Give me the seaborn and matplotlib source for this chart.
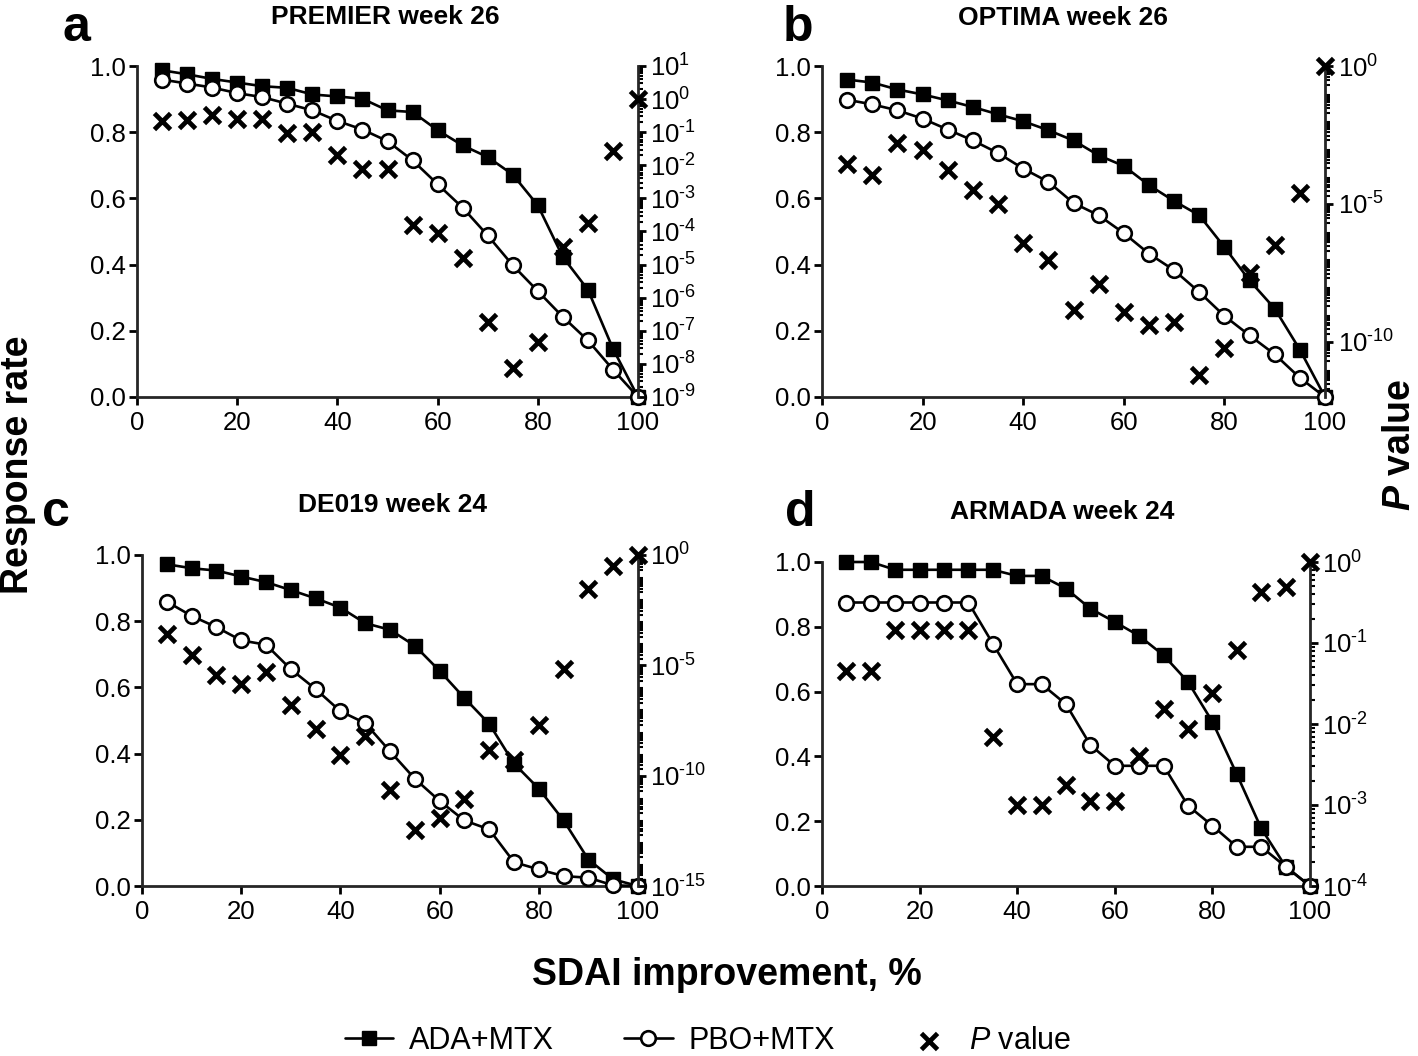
import numpy as np
import pandas as pd
import matplotlib
matplotlib.use("Agg")
import matplotlib.pyplot as plt
import seaborn as sns
from matplotlib.ticker import (FixedLocator, LogLocator, FuncFormatter,
                               NullFormatter, FormatStrFormatter, MultipleLocator)

# ---------------- data ----------------
improvement = [5, 10, 15, 20, 25, 30, 35, 40, 45, 50, 55, 60, 65, 70, 75, 80, 85, 90, 95, 100]

titles = ["PREMIER week 26", "OPTIMA week 26", "DE019 week 24", "ARMADA week 24"]
panel_letters = ["a", "b", "c", "d"]

premier_ada = [0.987, 0.975, 0.961, 0.950, 0.939, 0.934, 0.914, 0.908, 0.901, 0.866,
               0.861, 0.806, 0.760, 0.725, 0.672, 0.579, 0.423, 0.324, 0.146, 0.0]
premier_pbo = [0.959, 0.947, 0.935, 0.918, 0.906, 0.886, 0.866, 0.834, 0.808, 0.773,
               0.715, 0.643, 0.572, 0.488, 0.398, 0.320, 0.242, 0.171, 0.083, 0.0]
premier_logp = [-0.66, -0.64, -0.49, -0.59, -0.59, -1.02, -0.99, -1.70, -2.10, -2.10,
                -3.81, -4.05, -4.79, -6.73, -8.11, -7.34, -4.47, -3.74, -1.57, 0.0]

optima_ada = [0.959, 0.950, 0.929, 0.914, 0.896, 0.876, 0.854, 0.833, 0.806, 0.775,
              0.730, 0.698, 0.640, 0.592, 0.549, 0.453, 0.352, 0.267, 0.143, 0.0]
optima_pbo = [0.898, 0.884, 0.866, 0.841, 0.808, 0.775, 0.737, 0.690, 0.650, 0.586,
              0.549, 0.495, 0.433, 0.383, 0.317, 0.245, 0.186, 0.129, 0.058, 0.0]
optima_logp = [-3.54, -3.96, -2.79, -3.06, -3.76, -4.51, -4.99, -6.42, -7.02, -8.86,
               -7.89, -8.92, -9.40, -9.28, -11.21, -10.21, -7.50, -6.50, -4.60, 0.0]

de019_ada = [0.972, 0.960, 0.953, 0.935, 0.918, 0.894, 0.869, 0.841, 0.794, 0.774,
             0.726, 0.650, 0.568, 0.490, 0.370, 0.294, 0.198, 0.080, 0.020, 0.0]
de019_pbo = [0.859, 0.816, 0.782, 0.742, 0.729, 0.655, 0.595, 0.528, 0.492, 0.407,
             0.324, 0.257, 0.198, 0.171, 0.072, 0.050, 0.030, 0.025, 0.002, 0.0]
de019_logp = [-3.57, -4.52, -5.43, -5.85, -5.28, -6.78, -7.88, -9.05, -8.22, -10.66,
              -12.44, -11.91, -11.08, -8.82, -9.27, -7.69, -5.17, -1.55, -0.50, 0.0]

armada_ada = [1.0, 1.0, 0.976, 0.976, 0.976, 0.976, 0.976, 0.957, 0.957, 0.918,
              0.856, 0.815, 0.772, 0.712, 0.630, 0.507, 0.345, 0.178, 0.060, 0.0]
armada_pbo = [0.875, 0.875, 0.875, 0.875, 0.875, 0.875, 0.748, 0.623, 0.623, 0.561,
              0.435, 0.371, 0.371, 0.371, 0.248, 0.186, 0.121, 0.121, 0.060, 0.0]
armada_logp = [-1.34, -1.34, -0.84, -0.84, -0.84, -0.84, -2.16, -3.00, -3.00, -2.75,
               -2.95, -2.95, -2.40, -1.81, -2.06, -1.62, -1.09, -0.37, -0.31, 0.0]

ada_series = [premier_ada, optima_ada, de019_ada, armada_ada]
pbo_series = [premier_pbo, optima_pbo, de019_pbo, armada_pbo]
logp_series = [premier_logp, optima_logp, de019_logp, armada_logp]

# right-axis (log P) ranges in decades, and major tick step in decades
p_ranges = [(-9, 1), (-12, 0), (-15, 0), (-4, 0)]
p_major_step = [1, 5, 5, 1]

# ---------------- style ----------------
sns.set_style("ticks")
plt.rcParams["font.family"] = ["Liberation Sans", "DejaVu Sans"]
plt.rcParams.update({
    "mathtext.fontset": "custom",
    "mathtext.rm": "Liberation Sans",
    "mathtext.it": "Liberation Sans:italic",
    "mathtext.bf": "Liberation Sans:bold",
    "mathtext.bfit": "Liberation Sans:italic:bold",
    "axes.unicode_minus": False,
    "axes.linewidth": 2.0,
    "text.color": "black",
    "axes.labelcolor": "black",
    "xtick.color": "black",
    "ytick.color": "black",
})


def pow10_label(v, pos):
    e = int(round(np.log10(v)))
    if e < 0:
        return r"$10^{\text{-}%d}$" % abs(e)
    return r"$10^{%d}$" % e


W, H = 1418, 1056
fig = plt.figure(figsize=(W / 100, H / 100), dpi=100)

# axes boxes in pixels: left, right, top, bottom
boxes = [(137, 638, 66, 397), (822, 1325, 66, 397),
         (142, 638, 555, 886), (822, 1310, 562, 886)]
title_pos = [(385, 17), (1063, 18), (393, 505), (1062, 512)]
letter_pos = [(62, 41), (783, 41), (42, 526), (785, 526)]

TICK_FS = 18.5
line_handles = None
for i in range(4):
    l, r, t, b = boxes[i]
    ax = fig.add_axes([l / W, 1 - b / H, (r - l) / W, (b - t) / H])
    df = pd.DataFrame({"x": improvement, "ada": ada_series[i], "pbo": pbo_series[i],
                       "p": 10.0 ** np.array(logp_series[i])})

    sns.lineplot(data=df, x="x", y="ada", ax=ax, color="black", linewidth=1.9,
                 marker="s", markersize=9.5, markeredgecolor="black",
                 markerfacecolor="black", markeredgewidth=1.0,
                 clip_on=False, zorder=3, label="ADA+MTX", legend=False)
    sns.lineplot(data=df, x="x", y="pbo", ax=ax, color="black", linewidth=1.9,
                 marker="o", markersize=10.5, markeredgecolor="black",
                 markerfacecolor="white", markeredgewidth=1.9,
                 clip_on=False, zorder=3, label="PBO+MTX", legend=False)

    ax.set_xlim(0, 100)
    ax.set_ylim(0, 1.0)
    ax.xaxis.set_major_locator(MultipleLocator(20))
    ax.yaxis.set_major_locator(MultipleLocator(0.2))
    ax.yaxis.set_major_formatter(FormatStrFormatter("%.1f"))
    ax.set_xlabel("")
    ax.set_ylabel("")
    ax.tick_params(axis="both", direction="out", length=6, width=2.0,
                   labelsize=TICK_FS)
    ax.tick_params(axis="y", pad=2)
    ax.tick_params(axis="x", pad=4)
    ax.spines["top"].set_visible(False)
    ax.spines["right"].set_visible(False)

    ax2 = ax.twinx()
    ax2.set_yscale("log")
    lo, hi = p_ranges[i]
    ax2.set_ylim(10.0 ** lo, 10.0 ** hi)
    sns.scatterplot(data=df, x="x", y="p", ax=ax2, color="black", marker="x",
                    s=135, linewidth=3.4, clip_on=False, zorder=4,
                    label="P value", legend=False)
    ax2.set_ylabel("")
    step = p_major_step[i]
    ax2.yaxis.set_major_locator(FixedLocator(10.0 ** np.arange(hi, lo - 1, -step)))
    ax2.yaxis.set_major_formatter(FuncFormatter(pow10_label))
    ax2.yaxis.set_minor_locator(LogLocator(base=10, subs=np.arange(2, 10), numticks=1000))
    ax2.yaxis.set_minor_formatter(NullFormatter())
    ax2.tick_params(axis="y", which="major", direction="out", length=6, width=2.0,
                    labelsize=TICK_FS, pad=3)
    ax2.tick_params(axis="y", which="minor", direction="out", length=3.5, width=1.5)
    for s in ["top", "left", "bottom"]:
        ax2.spines[s].set_visible(False)
    ax2.spines["right"].set_linewidth(2.0)
    ax2.set_xlim(0, 100)

    tx, ty = title_pos[i]
    fig.text(tx / W, 1 - ty / H, titles[i], fontsize=19, fontweight="bold",
             ha="center", va="center")
    lx, ly = letter_pos[i]
    fig.text(lx / W, 1 - ly / H, panel_letters[i], fontsize=36, fontweight="bold",
             ha="left", va="baseline")

    if i == 0:
        line_handles = [ax.lines[0], ax.lines[1], ax2.collections[0]]

fig.text(18 / W, 1 - 465 / H, "Response rate", rotation=90, fontsize=27,
         fontweight="bold", ha="center", va="center")
fig.text(1400 / W, 1 - 445 / H, r"$\mathbfit{P}$ value", rotation=90, fontsize=27,
         fontweight="bold", ha="center", va="center")
fig.text(727 / W, 1 - 975 / H, "SDAI improvement, %", fontsize=27,
         fontweight="bold", ha="center", va="center")

fig.legend(line_handles, ["ADA+MTX", "PBO+MTX", r"$\mathit{P}$ value"],
           loc="center", bbox_to_anchor=(708 / W, 1 - 1041 / H), ncol=3,
           frameon=False, fontsize=22, handlelength=1.6, handletextpad=0.5,
           columnspacing=2.3, numpoints=1, scatterpoints=1)

fig.savefig("out.png", dpi=100)
